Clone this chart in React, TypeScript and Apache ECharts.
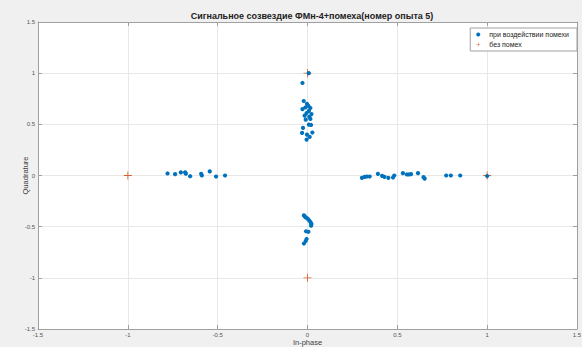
import React, { useEffect, useRef } from "react";
import * as echarts from "echarts";

const titleText = "Сигнальное созвездие ФМн-4+помеха(номер опыта 5)";
const xName = "In-phase";
const yName = "Quadrature";
const seriesNames = ["при воздействии помехи", "без помех"];
const axisTicks = [-1.5, -1, -0.5, 0, 0.5, 1, 1.5];

// Ideal QPSK points (без помех)
const refX = [-1, 0, 1, 0];
const refY = [0, -1, 0, 1];

// Received points (при воздействии помехи)
const noisyX = [
  // left cluster
  -0.779, -0.737, -0.705, -0.681, -0.677, -0.653, -0.592, -0.588, -0.544, -0.509, -0.459,
  // right cluster
  0.303, 0.318, 0.331, 0.346, 0.392, 0.415, 0.428, 0.45, 0.476, 0.483, 0.531, 0.553, 0.565,
  0.576, 0.615, 0.646, 0.652, 0.772, 0.798, 0.85, 1.0,
  // top cluster
  0.007, -0.028, -0.021, -0.003, 0.005, -0.028, 0.016, 0.008, -0.012, -0.005, 0.022, -0.016,
  0.01, -0.01, 0.016, 0.008, 0.02, -0.025, -0.03, 0.027, -0.003, 0.012, -0.005,
  // bottom cluster
  -0.02, -0.015, -0.01, 0.0, 0.005, 0.012, 0.018, 0.022, 0.02, -0.008, 0.005, -0.005, -0.01, -0.02,
];
const noisyY = [
  0.02, 0.013, 0.03, 0.03, 0.018, -0.007, 0.016, 0.0, 0.04, -0.01, 0.0,
  -0.023, -0.013, -0.01, -0.01, 0.016, -0.003, -0.013, -0.023, -0.02, 0.0, 0.023, 0.01, 0.01,
  0.013, 0.023, -0.016, -0.03, 0.0, 0.0, 0.0, -0.005,
  1.0, 0.904, 0.728, 0.7, 0.68, 0.648, 0.66, 0.632, 0.665, 0.61, 0.6, 0.585,
  0.573, 0.546, 0.553, 0.497, 0.494, 0.465, 0.416, 0.42, 0.4, 0.377, 0.351,
  -0.39, -0.4, -0.41, -0.42, -0.43, -0.445, -0.46, -0.475, -0.49, -0.545, -0.55, -0.62, -0.64, -0.665,
];

const FONT = "'Liberation Sans', Arial, Helvetica, sans-serif";
const BLUE = "#0072BD";
const ORANGE = "#D95319";
const PLUS = "path://M4,0h1v9h-1zM0,4h9v1h-9z";
const NAME_COLOR = "#404040";

export default function App() {
  const ref = useRef<HTMLDivElement>(null);

  useEffect(() => {
    if (!ref.current) return;
    const chart = echarts.init(ref.current, null, { renderer: "svg" });
    const noisyData = noisyX.map((x, i) => [x, noisyY[i]]);
    const refData = refX.map((x, i) => [x, refY[i]]);
    const valueAxisBase = {
      type: "value" as const,
      min: axisTicks[0],
      max: axisTicks[axisTicks.length - 1],
      interval: 0.5,
      axisLine: { show: true, onZero: false, lineStyle: { color: "#a0a0a0", width: 1 } },
      axisTick: { show: true, inside: true, length: 4, lineStyle: { color: "#a0a0a0" } },
    };
    chart.setOption({
      animation: false,
      backgroundColor: "#f0f0f0",
      textStyle: { fontFamily: FONT },
      title: {
        text: titleText,
        left: 307,
        textAlign: "center",
        top: 6,
        textStyle: { fontSize: 9, fontWeight: "bold", color: "#222", fontFamily: FONT },
      },
      legend: {
        orient: "vertical",
        right: 5,
        top: 28,
        backgroundColor: "#fff",
        borderColor: "#a0a0a0",
        borderWidth: 1,
        borderRadius: 0,
        padding: [3, 8, 3, 6],
        itemGap: 3,
        itemWidth: 12,
        itemHeight: 4,
        textStyle: { fontSize: 7, color: "#222", fontFamily: FONT },
        data: [
          { name: seriesNames[0], icon: "circle" },
          { name: seriesNames[1], icon: PLUS },
        ],
      },
      grid: {
        left: 38,
        right: 5,
        top: 22,
        bottom: 18,
        show: true,
        backgroundColor: "#fff",
        borderWidth: 0,
        containLabel: false,
        outerBoundsMode: "none",
      },
      xAxis: [
        {
          ...valueAxisBase,
          position: "bottom",
          name: xName,
          nameLocation: "middle",
          nameGap: 9,
          nameMoveOverlap: false,
          nameTextStyle: { fontSize: 7.5, color: NAME_COLOR, fontFamily: FONT },
          axisLabel: { fontSize: 6, color: "#555", margin: 3, fontFamily: FONT },
          splitLine: { show: true, lineStyle: { color: "#e8e8e8", width: 1 } },
        },
        {
          ...valueAxisBase,
          position: "top",
          axisLabel: { show: false },
          splitLine: { show: false },
        },
      ],
      yAxis: [
        {
          ...valueAxisBase,
          position: "left",
          name: yName,
          nameLocation: "middle",
          nameGap: 9,
          nameMoveOverlap: false,
          nameTextStyle: { fontSize: 7.5, color: NAME_COLOR, fontFamily: FONT },
          axisLabel: { fontSize: 6, color: "#555", margin: 3, fontFamily: FONT },
          splitLine: { show: true, lineStyle: { color: "#e8e8e8", width: 1 } },
        },
        {
          ...valueAxisBase,
          position: "right",
          axisLabel: { show: false },
          splitLine: { show: false },
        },
      ],
      series: [
        {
          name: seriesNames[1],
          type: "scatter",
          symbol: PLUS,
          symbolSize: 8,
          itemStyle: { color: ORANGE, opacity: 0.9 },
          data: refData,
          z: 2,
        },
        {
          name: seriesNames[0],
          type: "scatter",
          symbol: "circle",
          symbolSize: 4.2,
          itemStyle: { color: BLUE, opacity: 1 },
          data: noisyData,
          z: 3,
        },
      ],
    });
    return () => chart.dispose();
  }, []);

  return (
    <div
      ref={ref}
      style={{ position: "absolute", left: 0, top: 0, width: 582, height: 347 }}
    />
  );
}
